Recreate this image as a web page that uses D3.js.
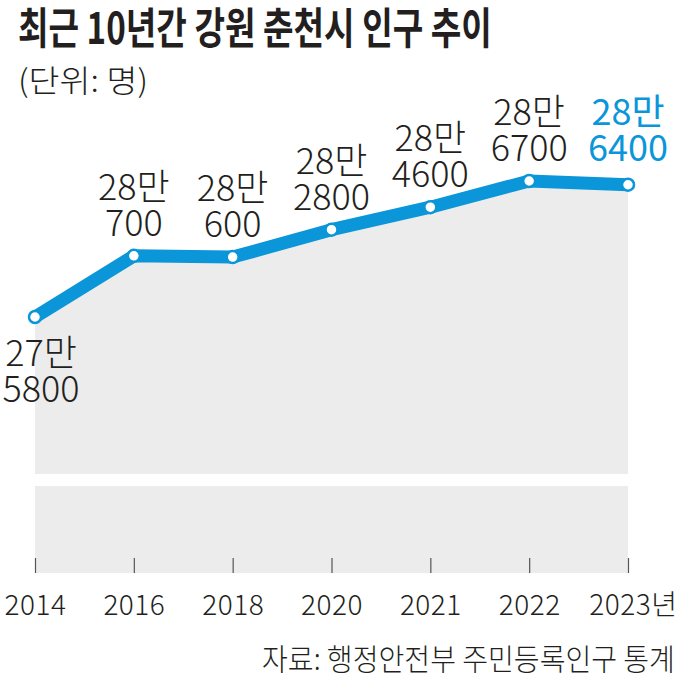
<!DOCTYPE html>
<html><head><meta charset="utf-8">
<script src="https://cdn.jsdelivr.net/npm/d3@7"></script>
<style>body{margin:0;background:#fff}svg{display:block}</style>
</head><body><svg id="c" width="680" height="680"></svg>
<script>
const years = ["2014","2016","2018","2020","2021","2022","2023"];
const population = [275800,280700,280600,282800,284600,286700,286400];
const labelTop = ["27만","28만","28만","28만","28만","28만","28만"];
const labelBottom = ["5800","700","600","2800","4600","6700","6400"];
const tickLabels = ["2014","2016","2018","2020","2021","2022","2023년"];
const titleText = "최근 10년간 강원 춘천시 인구 추이";
const unitText = "(단위: 명)";
const sourceText = "자료: 행정안전부 주민등록인구 통계";

const data = years.map((y,i)=>({year:y, value:population[i], top:labelTop[i], bottom:labelBottom[i]}));
const BLUE = "#0a96d8", GRAY = "#ececed", INK = "#231f20";
const FONT = "'Noto Sans CJK KR','Noto Sans',sans-serif";

const svg = d3.select("#c").style("font-family", FONT);
const x = d3.scalePoint().domain(years).range([35, 628]);
const y = d3.scaleLinear().domain([275800, 286700]).range([317, 181]);
const breakTop = 474, lowerTop = 486, axisY = 573;

// fitted text: scales horizontally to a target width
function fitText(str, x0, y0, size, weight, width){
  const t = svg.append("text").attr("x",0).attr("y",0).attr("font-size",size)
    .attr("font-weight",weight).attr("fill",INK).text(str);
  const w = t.node().getComputedTextLength();
  t.attr("transform",`translate(${x0},${y0}) scale(${width/w},1)`);
  return t;
}
fitText(titleText, 18, 44, 43, 700, 474);
fitText(unitText, 18, 92, 31, 300, 130);

// gray areas
const area = d3.area().x(d=>x(d.year)).y0(breakTop).y1(d=>y(d.value));
svg.append("path").datum(data).attr("d",area).attr("fill",GRAY);
svg.append("rect").attr("x",x(years[0])).attr("width",x(years[years.length-1])-x(years[0]))
  .attr("y",lowerTop).attr("height",axisY-lowerTop).attr("fill",GRAY);

// axis
const axis = svg.append("g").attr("transform",`translate(0,${axisY-15})`)
  .call(d3.axisBottom(x).tickSize(15).tickPadding(22).tickFormat((d,i)=>tickLabels[i]));
axis.select(".domain").remove();
axis.selectAll(".tick line").attr("stroke","#555").attr("stroke-width",1.2);
axis.selectAll(".tick text").attr("font-size",28).attr("font-family",FONT).attr("fill",INK)
  .attr("font-weight",300).attr("letter-spacing","0.5px");
axis.selectAll(".tick:last-of-type text").attr("text-anchor","end").attr("x",49);

// line
const line = d3.line().x(d=>x(d.year)).y(d=>y(d.value));
svg.append("path").datum(data).attr("d",line).attr("fill","none").attr("stroke",BLUE)
  .attr("stroke-width",13).attr("stroke-linejoin","round").attr("stroke-linecap","round");
svg.selectAll("circle.pt").data(data).join("circle").attr("class","pt")
  .attr("cx",d=>x(d.year)).attr("cy",d=>y(d.value)).attr("r",6)
  .attr("fill","#fff").attr("stroke",BLUE).attr("stroke-width",2.5);

// labels (two lines in one text element)
const last = data.length-1;
svg.selectAll("text.lab").data(data).join("text").attr("class","lab")
  .attr("text-anchor","middle").attr("font-size",36)
  .attr("font-weight",(d,i)=>i===last?400:300)
  .attr("fill",(d,i)=>i===last?BLUE:INK)
  .each(function(d,i){
    const t = d3.select(this);
    const px = i===0 ? x(d.year)+6 : x(d.year);
    const py = y(d.value);
    const b1 = i===0 ? py+49 : py-(i===last?60:56);
    t.attr("x",px).attr("y",b1);
    t.append("tspan").attr("x",px).attr("y",b1).text(d.top);
    t.append("tspan").attr("x",px).attr("dy",36).text(d.bottom);
  });

// source
fitText(sourceText, 262, 670, 30, 300, 413);
</script>
</body></html>
